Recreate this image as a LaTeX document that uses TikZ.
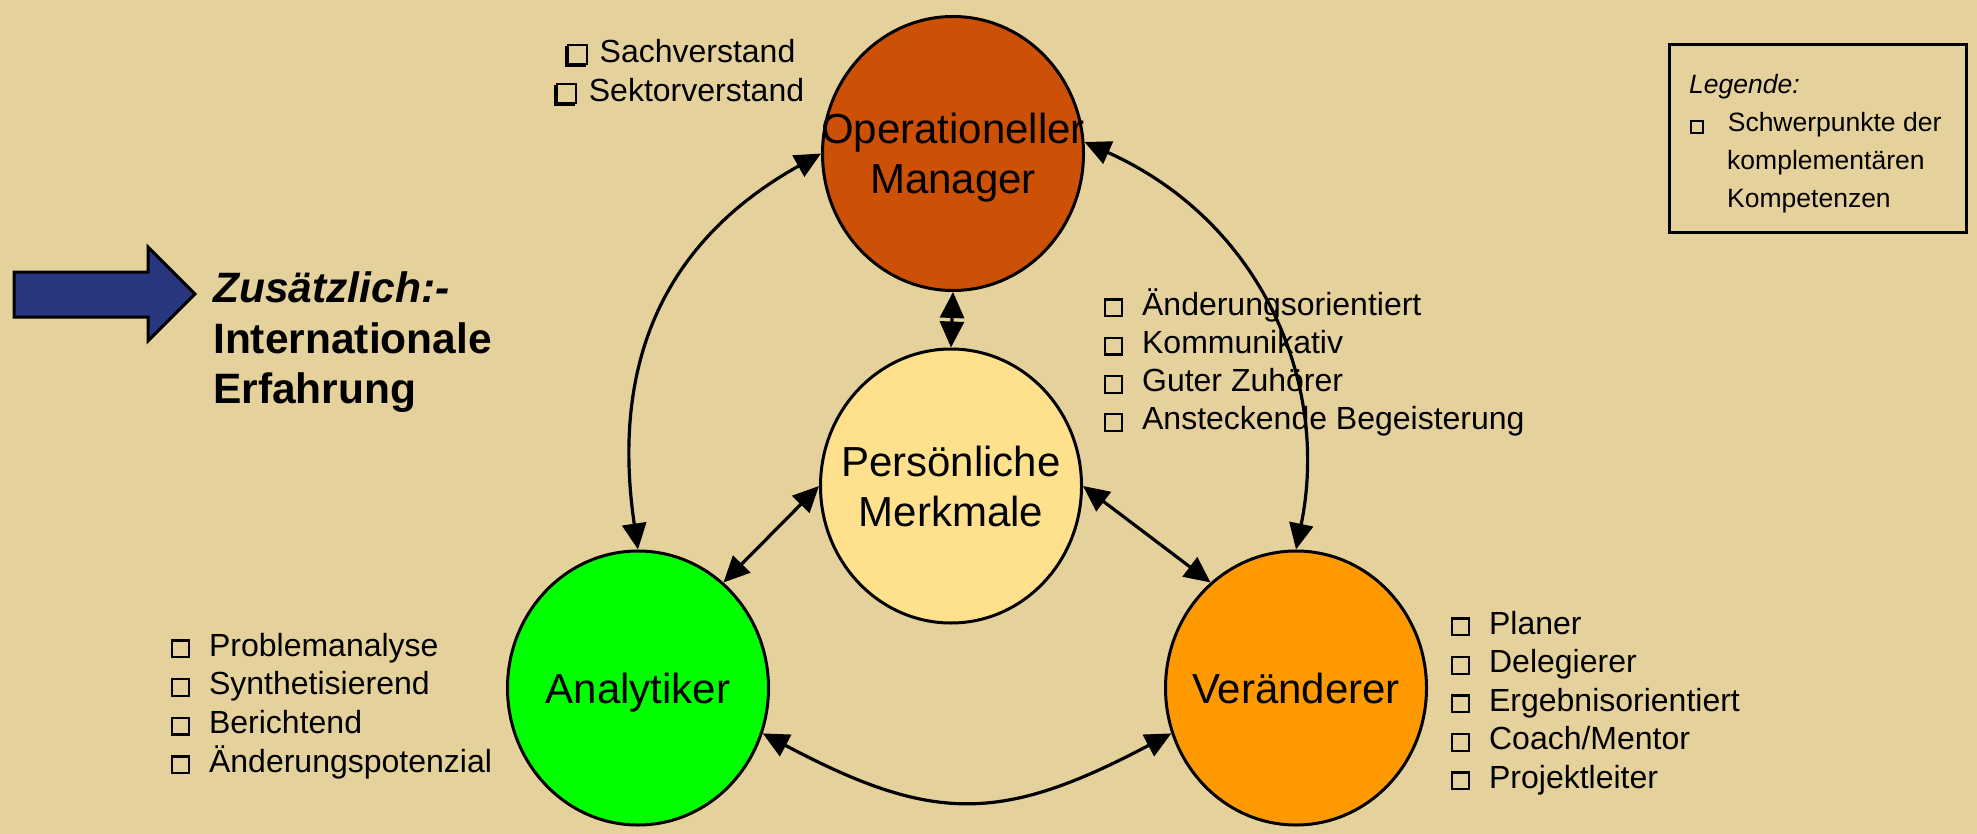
\documentclass[tikz,border=0pt]{standalone}
\usepackage{fontspec}
\setmainfont{Liberation Sans}
\usetikzlibrary{shapes.geometric,arrows.meta}
\definecolor{bgtan}{HTML}{E5D19B}
\definecolor{oprust}{HTML}{CC5005}
\definecolor{pmyellow}{HTML}{FFE08D}
\definecolor{anagreen}{HTML}{00FF00}
\definecolor{verorange}{HTML}{FF9900}
\definecolor{arrowblue}{HTML}{27367F}
\newcommand\sqbox[2]{{\setlength\fboxsep{0pt}\setlength\fboxrule{#2}\fbox{\rule{0pt}{#1}\rule{#1}{0pt}}}}
\newcommand\shsq{\makebox[23pt][l]{\rlap{\rule[-4pt]{21pt}{3.5pt}}\rlap{\rule[-4pt]{3.5pt}{21pt}}\hspace{2pt}\sqbox{17pt}{2pt}}}
\begin{document}
\begin{tikzpicture}[x=1pt,y=-1pt,
  blob/.style={ellipse, draw, line width=3pt, minimum width=261pt, minimum height=274pt,
    inner xsep=-80pt, inner ysep=-50pt, align=center, font=\fontsize{42}{50}\selectfont},
  item/.style={anchor=base west, inner sep=0pt, font=\fontsize{32}{38}\selectfont},
  legitem/.style={anchor=base west, inner sep=0pt, font=\fontsize{26.5}{38}\selectfont},
  bigtext/.style={anchor=base west, inner sep=0pt, font=\fontsize{42.5}{50}\selectfont\bfseries},
  conn/.style={line width=3.2pt, {Triangle[length=26pt,width=24pt]}-{Triangle[length=26pt,width=24pt]}}
]
\fill[bgtan] (0,0) rectangle (1977,834);
\useasboundingbox (0,0) rectangle (1977,834);

% blue arrow and additional text
\draw[fill=arrowblue, line width=3pt, line join=miter]
  (14,272) -- (148,272) -- (148,247) -- (195,294) -- (148,341) -- (148,317) -- (14,317) -- cycle;
\node[bigtext] (zus1) at (213,302) {\itshape Zusätzlich:-};
\node[bigtext] (zus2) at (213,353) {Internationale};
\node[bigtext] (zus3) at (213,403) {Erfahrung};

% legend
\draw[line width=3pt] (1669,45) rectangle (1966,233);
\node[legitem] (leg0) at (1689,94) {\itshape Legende:};
\node[legitem] (leg1) at (1690,132) {\sqbox{10pt}{1.8pt}\hspace{24pt}Schwerpunkte der};
\node[legitem] (leg2) at (1727,170) {komplementären};
\node[legitem] (leg3) at (1727,208) {Kompetenzen};

% ellipses
\node[blob, fill=oprust] (op) at (953,153.5) {Operationeller\\Mana\smash{g}er};
\node[blob, fill=pmyellow] (pm) at (951,486) {Persönliche\\Merkmale};
\node[blob, fill=anagreen] (ana) at (638,688) {Anal\smash{y}tiker};
\node[blob, fill=verorange] (ver) at (1296,688) {Veränderer};

% lists
\node[item, anchor=base] (sach1) at (680,63) {\shsq\hspace{12pt}Sachverstand};
\node[item, anchor=base] (sach2) at (679,102) {\shsq\hspace{12pt}Sektorverstand};
\foreach \t [count=\i] in {Änderungsorientiert,Kommunikativ,Guter Zuhörer,Ansteckende Begeisterung}
  \node[item] (pmL\i) at (1104,{315+38.3*(\i-1)}) {\sqbox{14.5pt}{2.2pt}\hspace{19pt}\t};
\foreach \t [count=\i] in {Problemanalyse,Synthetisierend,Berichtend,Änderungspotenzial}
  \node[item] (anaL\i) at (171,{656+38.7*(\i-1)}) {\sqbox{14.5pt}{2.2pt}\hspace{19pt}\t};
\foreach \t [count=\i] in {Planer,Delegierer,Ergebnisorientiert,Coach/Mentor,Projektleiter}
  \node[item] (verL\i) at (1451,{634+38.5*(\i-1)}) {\sqbox{14.5pt}{2.2pt}\hspace{19pt}\t};

% connectors
\draw[conn] (op.south) -- (pm.north);
\draw[conn] (pm.west) -- (ana.51);
\draw[conn] (pm.east) -- (ver.129);
\draw[conn] (op.west) .. controls +(-170,95) and +(-25,-170) .. (ana.north);
\draw[conn] (op.5) .. controls +(178,80) and +(34,-165) .. (ver.north);
\draw[conn] (ana.-20) .. controls +(170,90) and +(-170,90) .. (ver.200);
\end{tikzpicture}
\end{document}
